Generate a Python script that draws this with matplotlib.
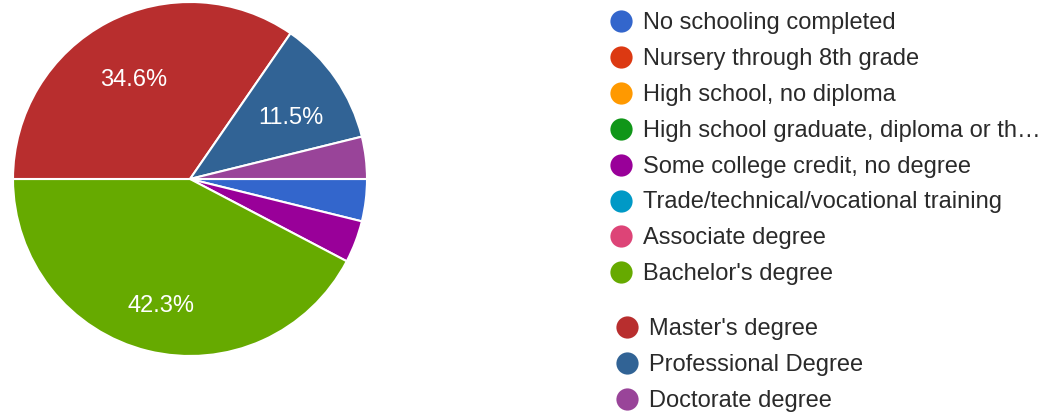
import matplotlib.pyplot as plt
from matplotlib.lines import Line2D

plt.rcParams["font.family"] = ["Liberation Sans", "DejaVu Sans"]

categories = [
    "No schooling completed",
    "Nursery through 8th grade",
    "High school, no diploma",
    "High school graduate, diploma or th\u2026",
    "Some college credit, no degree",
    "Trade/technical/vocational training",
    "Associate degree",
    "Bachelor's degree",
    "Master's degree",
    "Professional Degree",
    "Doctorate degree",
]
counts = [1, 0, 0, 0, 1, 0, 0, 11, 9, 3, 1]
colors = [
    "#3366cc", "#dc3912", "#ff9900", "#109618", "#990099", "#0099c6",
    "#dd4477", "#66aa00", "#b82e2e", "#316395", "#994499",
]

W, H = 1057, 414
fig = plt.figure(figsize=(W / 100, H / 100), dpi=100)

# pie area (pixels): center (190, 180), radius 177
cx, cy, r = 190, 180, 177
ax = fig.add_axes([(cx - r) / W, (H - cy - r) / H, 2 * r / W, 2 * r / H])

vals = [v for v in counts if v > 0]
cols = [c for v, c in zip(counts, colors) if v > 0]


def pct_label(p):
    return f"{p:.1f}%" if p >= 5 else ""


wedges, texts, autotexts = ax.pie(
    vals,
    colors=cols,
    startangle=0,
    counterclock=False,
    autopct=pct_label,
    pctdistance=0.69,
    wedgeprops=dict(edgecolor="white", linewidth=1.5),
    textprops=dict(color="white", fontsize=17),
)
for t in autotexts:
    t.set_va("center_baseline")
    x, y = t.get_position()
    t.set_position((x, y - 0.03))
ax.set_xlim(-1.0, 1.0)
ax.set_ylim(-1.0, 1.0)
ax.set_aspect("equal")

# legend drawn on a pixel-coordinate overlay
lax = fig.add_axes([0, 0, 1, 1])
lax.set_xlim(0, W)
lax.set_ylim(H, 0)
lax.axis("off")

row_h = 35.9
for i, (name, col) in enumerate(zip(categories, colors)):
    if i < 8:
        y = 22 + i * row_h
        mx, tx = 621, 643
    else:
        y = 328 + (i - 8) * row_h
        mx, tx = 627, 649
    lax.add_line(Line2D([mx], [y], marker="o", markersize=16, color=col,
                        markeredgewidth=0))
    lax.text(tx, y + 1, name, fontsize=17, color="#2a2a2a",
             va="center", ha="left")

fig.savefig("out.png", dpi=100, facecolor="white")
